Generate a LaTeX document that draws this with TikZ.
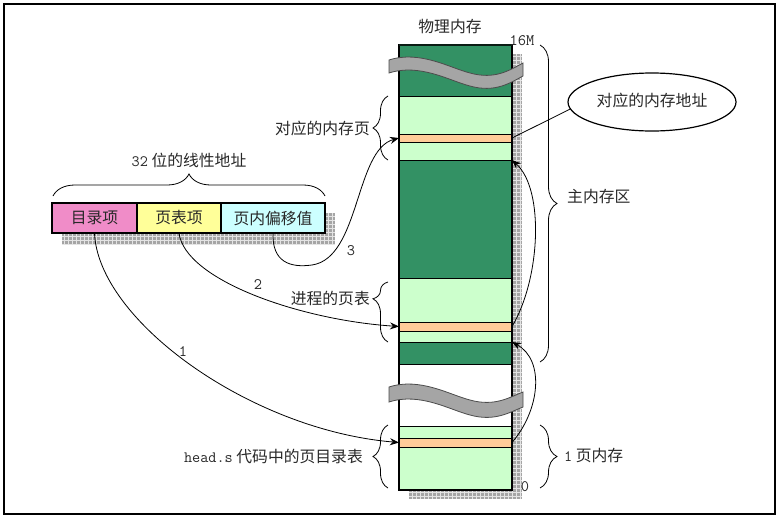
\documentclass[tikz,border=0pt]{standalone}
\usepackage{fontspec}
\setmainfont{Noto Sans CJK SC}
\usetikzlibrary{arrows.meta,decorations.pathreplacing,shapes.geometric}
\definecolor{dkgreen}{RGB}{51,145,100}
\definecolor{ltgreen}{RGB}{204,255,204}
\definecolor{orng}{RGB}{255,204,153}
\definecolor{pinkc}{RGB}{240,140,200}
\definecolor{yellc}{RGB}{255,255,153}
\definecolor{cyanc}{RGB}{204,255,255}
\definecolor{txt}{RGB}{40,40,40}
\definecolor{shd}{RGB}{165,165,165}
\begin{document}
\begin{tikzpicture}[x=1pt,y=-1pt,
  font=\fontsize{15.8}{18}\selectfont, text=txt,
  seg/.style={draw=black, line width=0.8pt, minimum width=113pt, inner sep=0pt, outer sep=0pt, anchor=north},
  fld/.style={draw=black, line width=1.5pt, minimum height=30pt, inner sep=0pt, outer sep=0pt, anchor=west},
  arr/.style={line width=0.8pt, -{Stealth[length=9pt,width=7pt]}},
  brc/.style={decorate, line width=0.8pt, decoration={brace, amplitude=#1}},
  brc/.default=15pt,
  lbl/.style={inner sep=0pt},
  num/.style={inner sep=0pt, font=\fontsize{16}{18}\ttfamily},
  wave/.style={fill=shd, draw=black!70, line width=0.8pt}
]
\useasboundingbox (0,0) rectangle (779,520);
\draw[line width=1.6pt] (4,4) rectangle (775,514);

% shadows
\begin{scope}
  \clip (409,54) rectangle (522,499);
  \fill[shd] (409,54) rectangle (522,499);
  \draw[white!70!shd, line width=0.6pt, step=4pt] (409,54) grid (522,499);
\end{scope}
\begin{scope}
  \clip (62,213) rectangle (335,244);
  \fill[shd] (62,213) rectangle (335,244);
  \draw[white!70!shd, line width=0.6pt, step=4pt] (62,213) grid (335,244);
\end{scope}

% memory column
\node[seg, fill=dkgreen, minimum height=51pt] (s1) at (455.5,45) {};
\node[seg, fill=ltgreen, minimum height=38pt] (s2) at (455.5,96) {};
\node[seg, fill=orng, minimum height=8pt] (s3) at (455.5,134) {};
\node[seg, fill=ltgreen, minimum height=18pt] (s4) at (455.5,142) {};
\node[seg, fill=dkgreen, minimum height=118pt] (s5) at (455.5,160) {};
\node[seg, fill=ltgreen, minimum height=44pt] (s6) at (455.5,278) {};
\node[seg, fill=orng, minimum height=9pt] (s7) at (455.5,322) {};
\node[seg, fill=ltgreen, minimum height=11pt] (s8) at (455.5,331) {};
\node[seg, fill=dkgreen, minimum height=22pt] (s9) at (455.5,342) {};
\node[seg, fill=white, minimum height=62pt] (s10) at (455.5,364) {};
\node[seg, fill=ltgreen, minimum height=12pt] (s11) at (455.5,426) {};
\node[seg, fill=orng, minimum height=9pt] (s12) at (455.5,438) {};
\node[seg, fill=ltgreen, minimum height=43pt] (s13) at (455.5,447) {};
\draw[line width=1.5pt] (s1.north west) rectangle (s13.south east);
\draw[line width=2.2pt, black!80!dkgreen] (s1.north west) -- (s1.north east);

% waves
\draw[wave] (389,60) .. controls (420,50) and (450,68) .. (470,73)
  .. controls (495,80) and (510,70) .. (523,63) -- (523,76)
  .. controls (510,83) and (495,93) .. (470,86)
  .. controls (450,81) and (420,63) .. (389,73) -- cycle;
\begin{scope}[yshift=-327pt]
\draw[wave] (389,60) .. controls (420,50) and (450,68) .. (470,73)
  .. controls (495,80) and (510,70) .. (523,65) -- (523,80)
  .. controls (510,85) and (495,95) .. (470,88)
  .. controls (450,83) and (420,65) .. (389,75) -- cycle;
\end{scope}

% labels of column
\node[lbl] (title) at (450,27) {物理内存};
\node[num] (top) at (522,41) {16M};
\node[num] (bot) at (525,487) {0};

% linear address
\node[fld, fill=pinkc, minimum width=85pt] (dir) at (52,218) {目录项};
\node[fld, fill=yellc, minimum width=84pt] (pt) at (dir.east) {页表项};
\node[fld, fill=cyanc, minimum width=104pt] (off) at (pt.east) {页内偏移值};
\draw[brc=22pt] (53,196) -- (325,196);
\node[lbl] (lin) at (189,160) {{\ttfamily 32} 位的线性地址};

% braces
\draw[brc=17pt] (540,45) -- (540,362);
\node[lbl, anchor=west] (main) at (567,197) {主内存区};
\draw[brc=17pt] (540,425) -- (540,488);
\node[lbl, anchor=west] (onepg) at (564,456) {{\ttfamily 1} 页内存};
\draw[brc=15pt] (388,160) -- (388,96);
\node[lbl, anchor=east] (pglbl) at (370,128) {对应的内存页};
\draw[brc=15pt, decoration={aspect=0.72}] (388,342) -- (388,282);
\node[lbl, anchor=east] (ptlbl) at (370,298) {进程的页表};
\draw[brc=15pt] (388,488) -- (388,425);
\node[lbl, anchor=east] (pdlbl) at (363,456) {{\ttfamily head.s} 代码中的页目录表};

% ellipse
\node[ellipse, draw=black, line width=1.2pt, minimum width=168pt, minimum height=58pt, inner sep=0pt] (ell) at (652,102) {\raisebox{5pt}{对应的内存地址}};
\draw[line width=0.8pt] (ell.185) -- (s3.east);

% arrows
\draw[arr] (dir.south) .. controls (98,320) and (250,430) .. (s12.west);
\node[num] (n1) at (183,352) {1};
\draw[arr] (pt.south) .. controls (185,280) and (300,320) .. (s7.west);
\node[num] (n2) at (258,285) {2};
\draw[arr] (off.south) .. controls (272,262) and (290,268) .. (312,265)
  .. controls (360,258) and (355,150) .. (s3.west);
\node[num] (n3) at (351,251) {3};
\draw[arr] (s12.east) .. controls (540,410) and (545,360) .. (s8.south east);
\draw[arr] (s7.east) .. controls (540,280) and (545,190) .. (s4.south east);
\end{tikzpicture}
\end{document}
